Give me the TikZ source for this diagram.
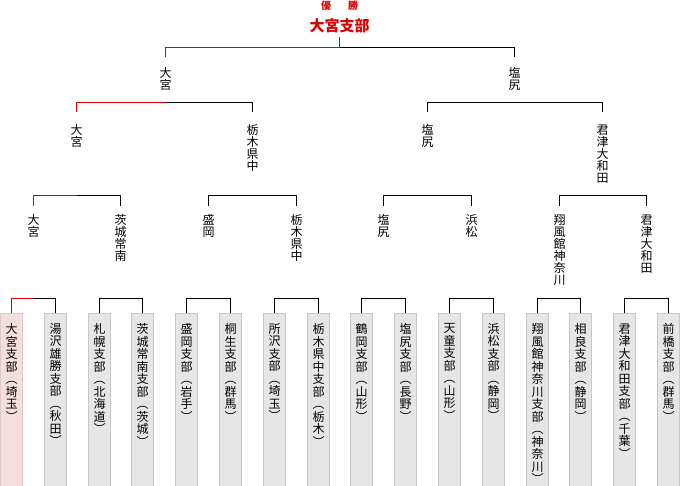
\documentclass[tikz,border=0pt]{standalone}
\usepackage{fontspec}
\newfontfamily\jp{Noto Sans CJK JP}
\definecolor{winred}{RGB}{221,0,0}
\definecolor{leafgray}{RGB}{230,230,230}
\definecolor{leafedge}{RGB}{200,200,200}
\definecolor{pinkfill}{RGB}{246,222,222}
\definecolor{pinkedge}{RGB}{222,200,200}
\newcommand\po{︵}
\newcommand\pc{︶}
\begin{document}
\begin{tikzpicture}[x=1pt,y=-1pt,line width=1pt,
  leaf/.style={draw=leafedge,fill=leafgray,minimum width=22pt,minimum height=173pt,inner sep=0pt,anchor=north,line width=1pt},
  winleaf/.style={leaf,draw=pinkedge,fill=pinkfill},
  ltext/.style={font=\jp\fontsize{12}{12.5}\selectfont,align=center,inner sep=0pt,anchor=north,yshift=-9.5pt},
  lab/.style={font=\jp\fontsize{12}{12}\selectfont,align=center,inner sep=0pt,anchor=north},
  labA/.style={lab,outer ysep=10pt},
  labB/.style={lab,outer ysep=12pt},
  labC/.style={lab,outer ysep=8pt},
  conn/.style={draw=black,line width=1pt},
  winconn/.style={draw=winred,line width=1pt}]
\useasboundingbox (0,0) rectangle (680,486);

% header
\node[font=\jp\fontsize{10}{10}\selectfont\bfseries,text=winred,inner sep=0pt] (hdr) at (339.5,6) {優\hspace{17pt}勝};
\node[font=\jp\fontsize{15}{15}\selectfont\bfseries,text=winred,inner sep=0pt,outer ysep=4pt] (champ) at (339.5,26) {大宮支部};

% leaves
\node[winleaf,label={[ltext]north:{大\\宮\\支\\部\\\po\\埼\\玉\\\pc}}] (L0) at (11.5,313.5) {};
\node[leaf,label={[ltext]north:{湯\\沢\\雄\\勝\\支\\部\\\po\\秋\\田\\\pc}}] (L1) at (55.5,313.5) {};
\node[leaf,label={[ltext]north:{札\\幌\\支\\部\\\po\\北\\海\\道\\\pc}}] (L2) at (99.5,313.5) {};
\node[leaf,label={[ltext]north:{茨\\城\\常\\南\\支\\部\\\po\\茨\\城\\\pc}}] (L3) at (142.5,313.5) {};
\node[leaf,label={[ltext]north:{盛\\岡\\支\\部\\\po\\岩\\手\\\pc}}] (L4) at (186.5,313.5) {};
\node[leaf,label={[ltext]north:{桐\\生\\支\\部\\\po\\群\\馬\\\pc}}] (L5) at (230.5,313.5) {};
\node[leaf,label={[ltext]north:{所\\沢\\支\\部\\\po\\埼\\玉\\\pc}}] (L6) at (274.5,313.5) {};
\node[leaf,label={[ltext]north:{栃\\木\\県\\中\\支\\部\\\po\\栃\\木\\\pc}}] (L7) at (318.5,313.5) {};
\node[leaf,label={[ltext]north:{鶴\\岡\\支\\部\\\po\\山\\形\\\pc}}] (L8) at (361.5,313.5) {};
\node[leaf,label={[ltext]north:{塩\\尻\\支\\部\\\po\\長\\野\\\pc}}] (L9) at (405.5,313.5) {};
\node[leaf,label={[ltext]north:{天\\童\\支\\部\\\po\\山\\形\\\pc}}] (L10) at (449.5,313.5) {};
\node[leaf,label={[ltext]north:{浜\\松\\支\\部\\\po\\静\\岡\\\pc}}] (L11) at (493.5,313.5) {};
\node[leaf,label={[ltext]north:{翔\\風\\館\\神\\奈\\川\\支\\部\\\po\\神\\奈\\川\\\pc}}] (L12) at (537.5,313.5) {};
\node[leaf,label={[ltext]north:{相\\良\\支\\部\\\po\\静\\岡\\\pc}}] (L13) at (580.5,313.5) {};
\node[leaf,label={[ltext]north:{君\\津\\大\\和\\田\\支\\部\\\po\\千\\葉\\\pc}}] (L14) at (624.5,313.5) {};
\node[leaf,label={[ltext]north:{前\\橋\\支\\部\\\po\\群\\馬\\\pc}}] (L15) at (668.5,313.5) {};

% level 3 labels
\node[labC] (Q0) at (33.5,206.5) {大\\宮};
\node[labC] (Q1) at (120.5,206.5) {茨\\城\\常\\南};
\node[labC] (Q2) at (208.5,206.5) {盛\\岡};
\node[labC] (Q3) at (296.5,206.5) {栃\\木\\県\\中};
\node[labC] (Q4) at (383.5,206.5) {塩\\尻};
\node[labC] (Q5) at (471.5,206.5) {浜\\松};
\node[labC] (Q6) at (559.5,206.5) {翔\\風\\館\\神\\奈\\川};
\node[labC] (Q7) at (646.5,206.5) {君\\津\\大\\和\\田};

% level 2 labels
\node[labB] (H0) at (76.5,112.5) {大\\宮};
\node[labB] (H1) at (252.5,112.5) {栃\\木\\県\\中};
\node[labB] (H2) at (427.5,112.5) {塩\\尻};
\node[labB] (H3) at (602.5,112.5) {君\\津\\大\\和\\田};

% level 1 labels
\node[labA] (F0) at (165.5,57.5) {大\\宮};
\node[labA] (F1) at (514.5,57.5) {塩\\尻};

% bracket points
\coordinate (b0) at (33.5,298.5);  \coordinate (b1) at (120.5,298.5);
\coordinate (b2) at (208.5,298.5); \coordinate (b3) at (296.5,298.5);
\coordinate (b4) at (383.5,298.5); \coordinate (b5) at (471.5,298.5);
\coordinate (b6) at (559.5,298.5); \coordinate (b7) at (646.5,298.5);
\coordinate (c0) at (76.5,195.5);  \coordinate (c1) at (252.5,195.5);
\coordinate (c2) at (427.5,195.5); \coordinate (c3) at (602.5,195.5);
\coordinate (e0) at (165.5,102.5); \coordinate (e1) at (514.5,102.5);
\coordinate (top) at (339.5,47.5);

% black halves
\draw[conn] (L1.north) |- (b0);
\draw[conn] (L2.north) |- (b1); \draw[conn] (L3.north) |- (b1);
\draw[conn] (L4.north) |- (b2); \draw[conn] (L5.north) |- (b2);
\draw[conn] (L6.north) |- (b3); \draw[conn] (L7.north) |- (b3);
\draw[conn] (L8.north) |- (b4); \draw[conn] (L9.north) |- (b4);
\draw[conn] (L10.north) |- (b5); \draw[conn] (L11.north) |- (b5);
\draw[conn] (L12.north) |- (b6); \draw[conn] (L13.north) |- (b6);
\draw[conn] (L14.north) |- (b7); \draw[conn] (L15.north) |- (b7);
\draw[conn] (Q1.north) |- (c0);
\draw[conn] (Q2.north) |- (c1); \draw[conn] (Q3.north) |- (c1);
\draw[conn] (Q4.north) |- (c2); \draw[conn] (Q5.north) |- (c2);
\draw[conn] (Q6.north) |- (c3); \draw[conn] (Q7.north) |- (c3);
\draw[conn] (H1.north) |- (e0);
\draw[conn] (H2.north) |- (e1); \draw[conn] (H3.north) |- (e1);
\draw[conn] (F1.north) |- (top);

% winner path (red)
\draw[winconn] (L0.north) |- (b0);
\draw[winconn] (Q0.north) |- (c0);
\draw[winconn] (H0.north) |- (e0);
\draw[winconn] (F0.north) |- (top);
\draw[winconn] (champ.south) -- (top);
\end{tikzpicture}
\end{document}
